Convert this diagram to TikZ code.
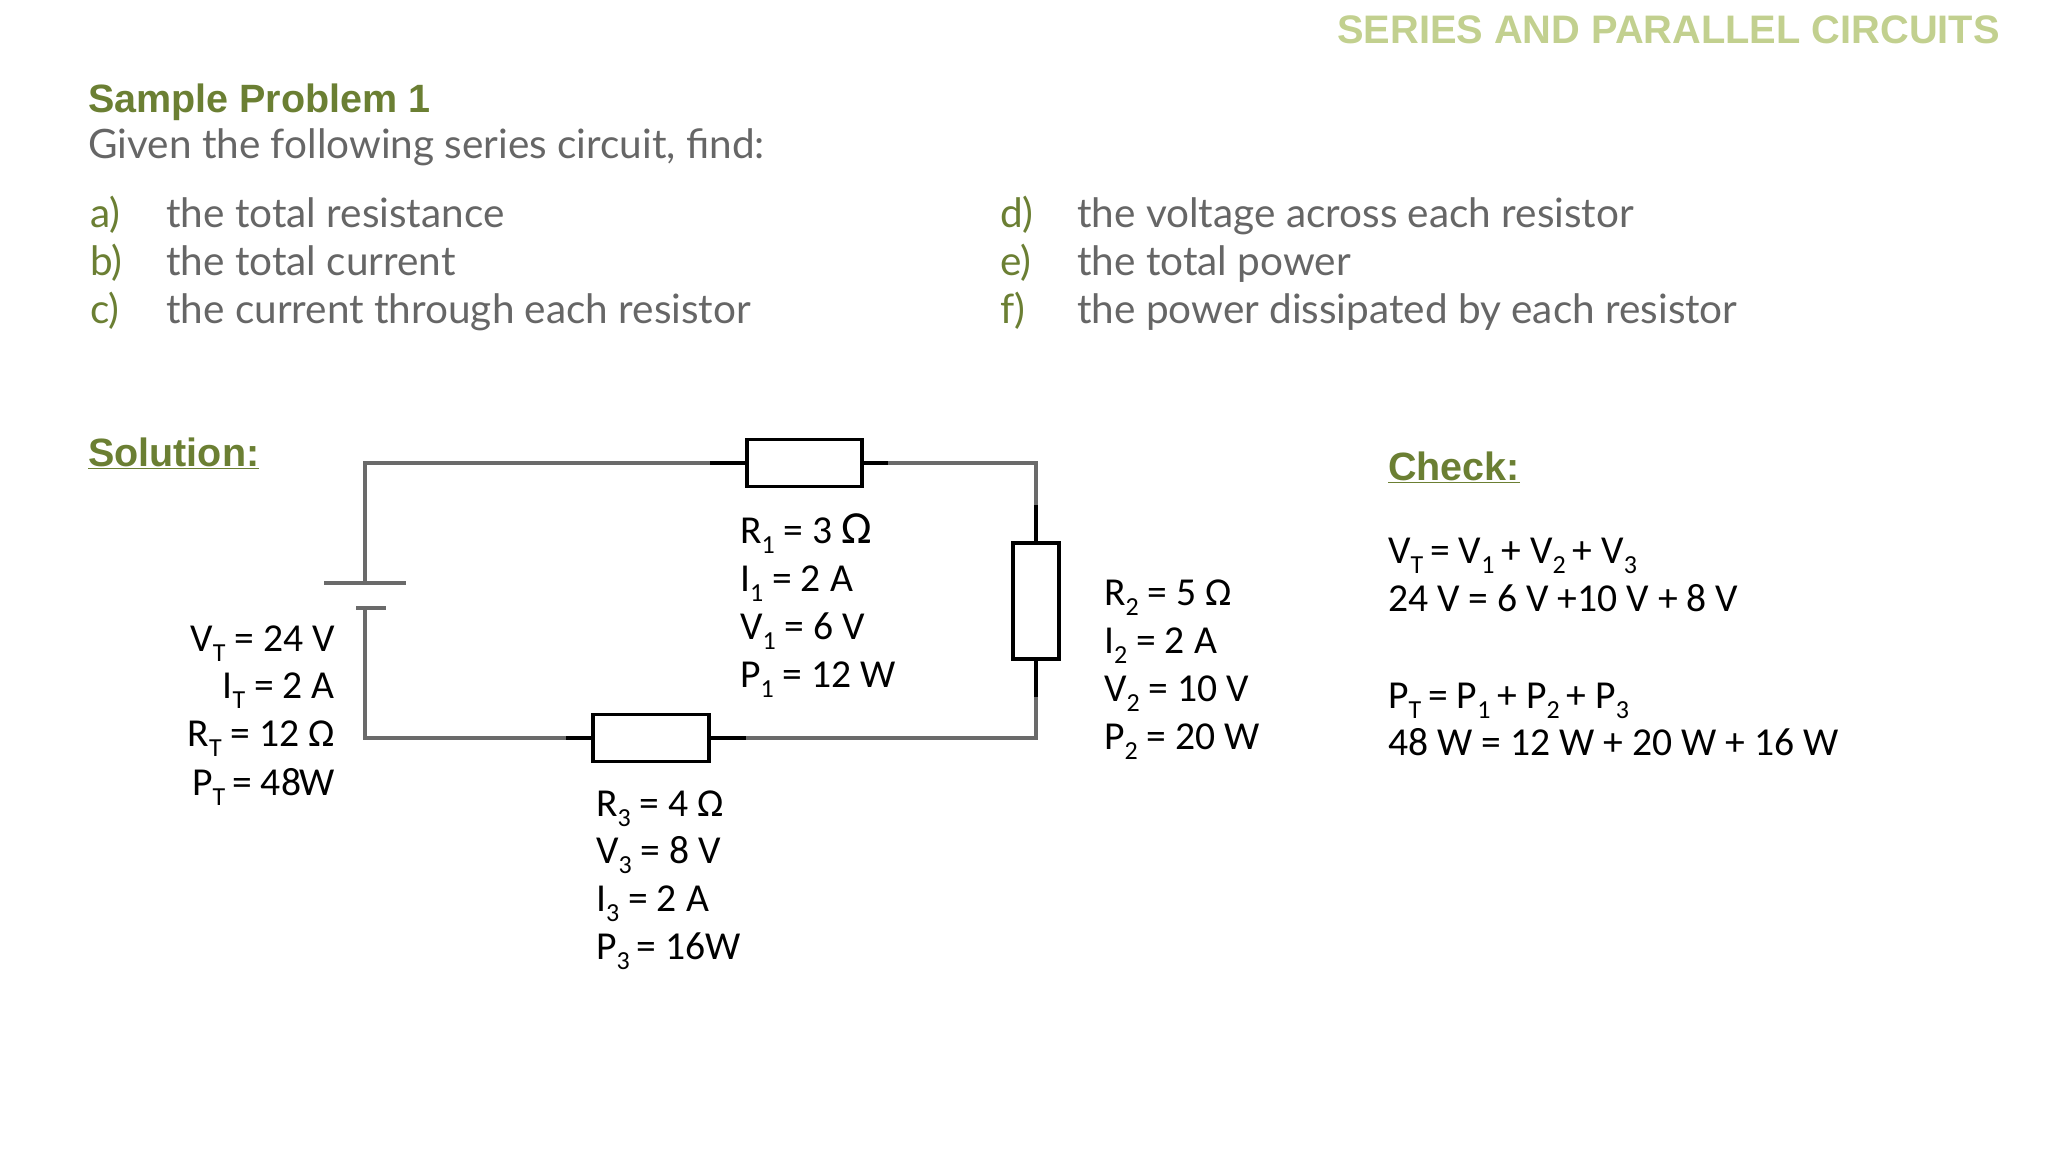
\documentclass[tikz,border=0pt]{standalone}
\usepackage{fontspec}
\setmainfont{Lato}
\newfontfamily\headfont{Liberation Sans}
\newfontfamily\calfont{Carlito}
\definecolor{olivegreen}{HTML}{6B7F33}
\definecolor{palegreen}{HTML}{C2D08F}
\definecolor{bodygrey}{HTML}{666666}
\definecolor{wiregrey}{HTML}{6A6A6A}
\newcommand{\subs}[1]{\raisebox{-0.27em}{\fontsize{26}{26}\selectfont #1}}
\newcommand{\tsubs}[1]{\subs{#1}\hspace{-2pt}}
\newcommand{\bigohm}{{\fontsize{46}{46}\selectfont Ω}}
\tikzset{
  x=1pt,y=-1pt,
  title/.style={anchor=base east,inner sep=0,font=\headfont\bfseries\fontsize{39.8}{40}\selectfont,text=palegreen},
  heading/.style={anchor=base west,inner sep=0,font=\headfont\bfseries\fontsize{39.5}{40}\selectfont,text=olivegreen},
  bodytext/.style={anchor=base west,inner sep=0,font=\fontsize{40.5}{41}\selectfont,text=bodygrey},
  marker/.style={anchor=base west,inner sep=0,font=\fontsize{40.5}{41}\selectfont,text=olivegreen},
  lab/.style={anchor=base west,inner sep=0,font=\calfont\fontsize{39.6}{40}\selectfont,text=black},
  labr/.style={anchor=base east,inner sep=0,font=\calfont\fontsize{39.6}{40}\selectfont,text=black},
  resistor/.style={draw=black,line width=3.5pt,fill=white,rectangle,inner sep=0,outer sep=0},
  wire/.style={draw=wiregrey,line width=3.5pt,line cap=rect,line join=miter},
  lead/.style={draw=black,line width=3.5pt},
  plate/.style={draw=wiregrey,line width=3.5pt},
}
\begin{document}
\begin{tikzpicture}
\useasboundingbox (0,0) rectangle (2048,1152);
\node[title] (ttl) at (2000,43) {SERIES AND PARALLEL CIRCUITS};
\node[heading] (sp) at (88,112) {Sample Problem 1};
\node[bodytext] (given) at (88,158) {Given the following series circuit, find:};
\node[marker] (ma) at (90,227) {a)};
\node[marker] (mb) at (90,275) {b)};
\node[marker] (mc) at (90,323) {c)};
\node[bodytext] (ta) at (166,227) {the total resistance};
\node[bodytext] (tb) at (166,275) {the total current};
\node[bodytext] (tc) at (166,323) {the current through each resistor};
\node[marker] (md) at (1000,227) {d)};
\node[marker] (me) at (1000,275) {e)};
\node[marker] (mf) at (1000,323) {f)};
\node[bodytext] (td) at (1077,227) {the voltage across each resistor};
\node[bodytext] (te) at (1077,275) {the total power};
\node[bodytext] (tf) at (1077,323) {the power dissipated by each resistor};
\node[heading] (sol) at (88,466) {\underline{Solution:}};
\node[heading] (chk) at (1388,480) {\underline{Check:}};
% circuit
\node[resistor,minimum width=115pt,minimum height=47pt] (r1) at (804.5,463) {};
\node[resistor,minimum width=46pt,minimum height=116pt] (r2) at (1036,601) {};
\node[resistor,minimum width=116pt,minimum height=47pt] (r3) at (651,738) {};
\coordinate (tl) at (365,463);
\coordinate (tr) at (1036,463);
\coordinate (bl) at (365,738);
\coordinate (br) at (1036,738);
\coordinate (p1) at (365,583);
\coordinate (p2) at (365,608);
\coordinate (pa) at (324,583);
\coordinate (pb) at (406,583);
\coordinate (pc) at (356,608);
\coordinate (pd) at (386,608);
\coordinate (l1a) at (710,463);
\coordinate (l1b) at (888,463);
\coordinate (l2a) at (1036,505);
\coordinate (l2b) at (1036,697);
\coordinate (l3a) at (566,738);
\coordinate (l3b) at (746,738);
\draw[wire] (p1) -- (tl) -- (l1a);
\draw[wire] (l1b) -- (tr) -- (l2a);
\draw[wire] (l2b) -- (br) -- (l3b);
\draw[wire] (l3a) -- (bl) -- (p2);
\draw[plate] (pa) -- (pb);
\draw[plate] (pc) -- (pd);
\draw[lead] (l1a) -- (r1.west);
\draw[lead] (r1.east) -- (l1b);
\draw[lead] (l2a) -- (r2.north);
\draw[lead] (r2.south) -- (l2b);
\draw[lead] (l3a) -- (r3.west);
\draw[lead] (r3.east) -- (l3b);
% labels
\node[lab] (a1) at (740,543) {R\subs{1} = 3 \bigohm};
\node[lab] (a2) at (740,591) {I\subs{1} = 2 A};
\node[lab] (a3) at (740,639) {V\subs{1} = 6 V};
\node[lab] (a4) at (740,687) {P\subs{1} = 12 W};
\node[lab] (b1) at (1104,605) {R\subs{2} = 5 Ω};
\node[lab] (b2) at (1104,653) {I\subs{2} = 2 A};
\node[lab] (b3) at (1104,701) {V\subs{2} = 10 V};
\node[lab] (b4) at (1104,749) {P\subs{2} = 20 W};
\node[labr] (c1) at (335,651) {V\subs{T} = 24 V};
\node[labr] (c2) at (335,698) {I\subs{T} = 2 A};
\node[labr] (c3) at (335,746) {R\subs{T} = 12 Ω};
\node[labr] (c4) at (335,795) {P\tsubs{T} = 48\kern-1.5ptW};
\node[lab] (d1) at (596,816) {R\subs{3} = 4 Ω};
\node[lab] (d2) at (596,863) {V\subs{3} = 8 V};
\node[lab] (d3) at (596,911) {I\subs{3} = 2 A};
\node[lab] (d4) at (596,959) {P\tsubs{3} = 16W};
\node[lab] (e1) at (1388,563) {V\tsubs{T} = V\tsubs{1} + V\tsubs{2} + V\tsubs{3}};
\node[lab] (e2) at (1388,611) {24 V = 6 V +10 V + 8 V};
\node[lab] (e3) at (1388,708) {P\tsubs{T} = P\tsubs{1} + P\tsubs{2} + P\tsubs{3}};
\node[lab] (e4) at (1388,755) {48 W = 12 W + 20 W + 16 W};
\end{tikzpicture}
\end{document}
